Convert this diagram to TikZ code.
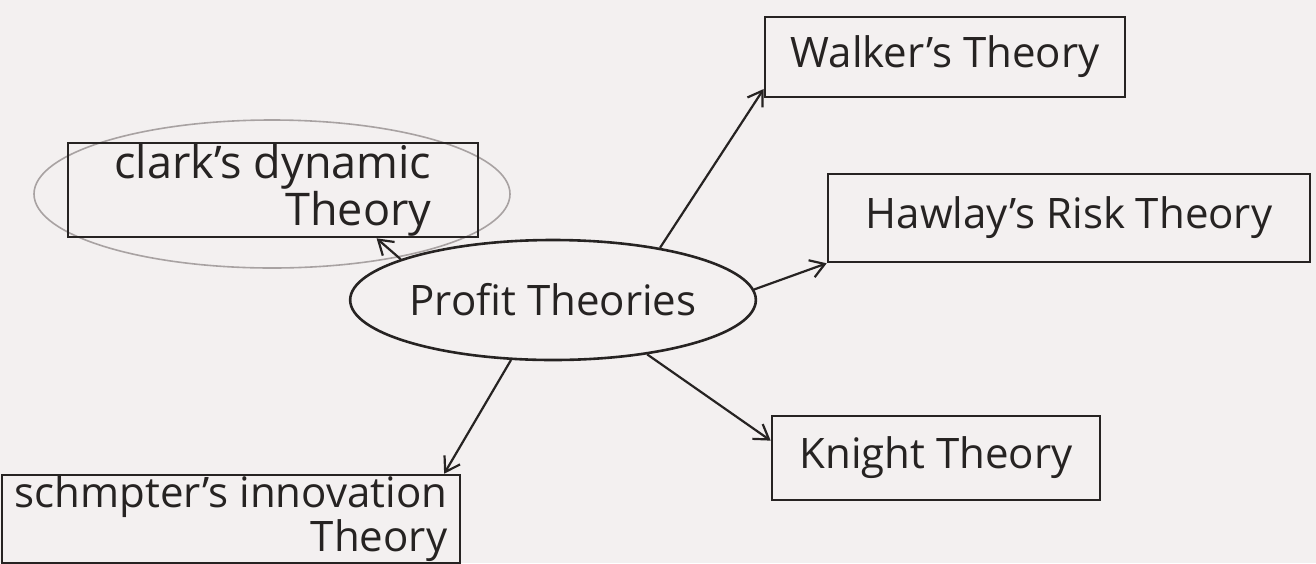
\documentclass[tikz,border=0pt]{standalone}
\usepackage{fontspec}
\setmainfont{Open Sans}
\usetikzlibrary{shapes.geometric,arrows.meta}
\definecolor{paper}{HTML}{F3F0F0}
\definecolor{ink}{HTML}{262322}
\definecolor{pencil}{HTML}{A8A2A2}
\tikzset{
  every node/.style={font=\fontsize{21}{25}\selectfont, text=ink},
  tbox/.style={draw=ink, line width=1.3pt, inner sep=4pt},
  twoline/.style={align=right, inner sep=0.5pt, font=\fontsize{21}{20.5}\selectfont},
  hub/.style={ellipse, draw=ink, line width=1.3pt, minimum width=167pt, minimum height=60pt, inner sep=0pt},
  arr/.style={draw=ink, line width=1.1pt, -{Straight Barb[length=7pt,width=9pt,line width=1.1pt]}},
}
\begin{document}
\begin{tikzpicture}[x=0.5pt,y=-0.5pt]
\fill[paper] (0,0) rectangle (1316,563);
\useasboundingbox (0,0) rectangle (1316,563);
% faint pencil ellipse around Clark's box
\draw[pencil, line width=0.8pt] (272,194) ellipse [x radius=238, y radius=74];
\node[hub] (P) at (553,300) {Profit Theories};
\node[tbox, minimum width=180pt, minimum height=40pt] (W) at (945,57) {Walker's Theory};
\node[tbox, minimum width=241pt, minimum height=44pt] (H) at (1069,218) {Hawlay's Risk Theory};
\node[tbox, twoline, font=\fontsize{22.5}{21}\selectfont, minimum width=205pt, minimum height=45pt] (C) at (273,190) {clark's dynamic\\Theory};
\node[tbox, twoline, minimum width=229pt, minimum height=41pt] (S) at (231,519) {schmpter's innovation\\Theory};
\node[tbox, minimum width=164pt, minimum height=42pt] (K) at (936,458) {Knight Theory};
\draw[arr] (P.26) -- (W.190);
\draw[arr] (P.3) -- (H.south west);
\draw[arr] (P.165) -- (C.335);
\draw[arr] (P.330) -- (K.174);
\draw[arr] (P.235) -- (S.12);
\end{tikzpicture}
\end{document}
